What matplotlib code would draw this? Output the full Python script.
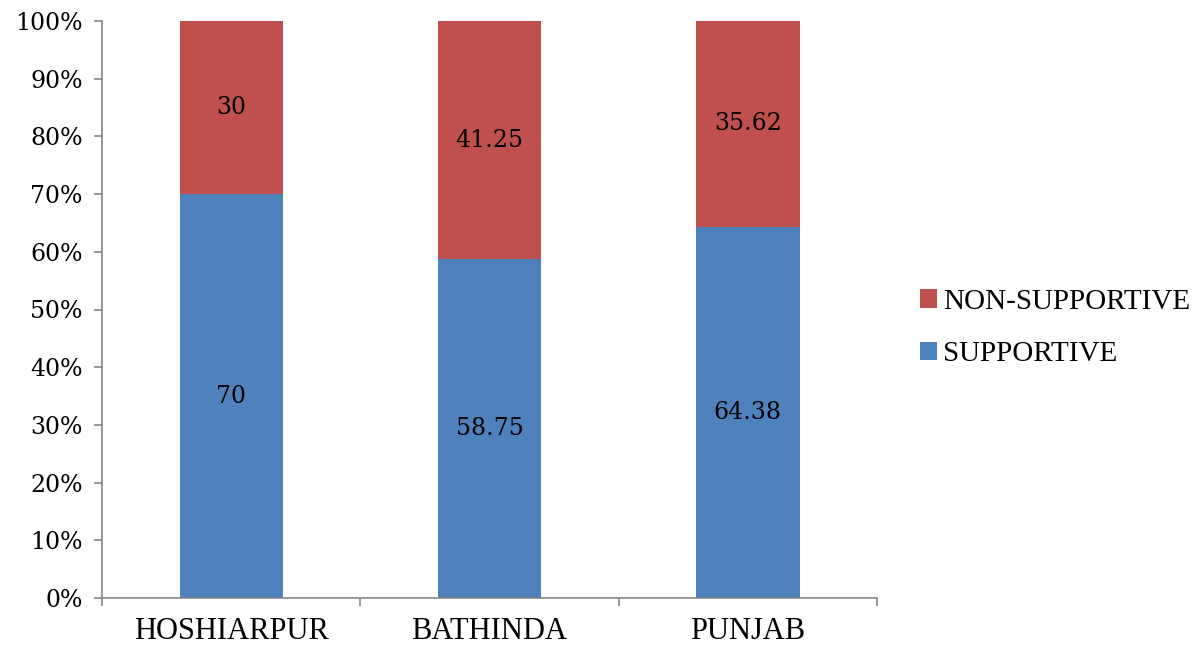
"""stacked 100% bar chart of supportive / non-supportive shares"""
import matplotlib.pyplot as plt
import numpy as np

regions = ["HOSHIARPUR", "BATHINDA", "PUNJAB"]
supportive = [70, 58.75, 64.38]
non_supportive = [30, 41.25, 35.62]

blue = "#4F81BD"
red = "#C0504D"
axis_grey = "#868686"

fig = plt.figure(figsize=(11.96, 6.45), dpi=100)
ax = fig.add_axes([102 / 1196, 1 - 598 / 645, 775 / 1196, 577 / 645])

x = np.arange(len(regions))
width = 0.40
b1 = ax.bar(x, supportive, width, color=blue, label="SUPPORTIVE")
b2 = ax.bar(x, non_supportive, width, bottom=supportive, color=red,
            label="NON-SUPPORTIVE")

num_font = dict(family="DejaVu Serif", size=17)
for xi, s, n in zip(x, supportive, non_supportive):
    ax.text(xi, s / 2, f"{s:g}", ha="center", va="center", **num_font)
    ax.text(xi, s + n / 2, f"{n:g}", ha="center", va="center", **num_font)

ax.set_xlim(-0.5, len(regions) - 0.5)
ax.set_ylim(0, 100)
ax.set_yticks(np.arange(0, 101, 10))
ax.set_yticklabels([f"{v}%" for v in range(0, 101, 10)], **num_font)

# category names centred under bars, tick marks on the boundaries
ax.set_xticks(np.arange(-0.5, len(regions), 1.0))
ax.set_xticklabels([])
ax.set_xticks(x, minor=True)
ax.set_xticklabels(regions, minor=True, family="Liberation Serif", size=22)
ax.tick_params(axis="x", which="minor", length=0, pad=14)
ax.tick_params(axis="x", which="major", length=6, color=axis_grey, width=1.2)
ax.tick_params(axis="y", length=6, color=axis_grey, width=1.2, pad=8)

for side in ["top", "right"]:
    ax.spines[side].set_visible(False)
for side in ["left", "bottom"]:
    ax.spines[side].set_color(axis_grey)
    ax.spines[side].set_linewidth(1.2)

handles = [b2, b1]
ax.legend(handles, [h.get_label() for h in handles], loc="center left",
          bbox_to_anchor=(1.021, 0.468), frameon=False,
          prop=dict(family="Liberation Serif", size=21),
          handlelength=0.6, handleheight=0.6, handletextpad=0.2,
          labelspacing=0.9)

fig.savefig("out.png", dpi=100)
